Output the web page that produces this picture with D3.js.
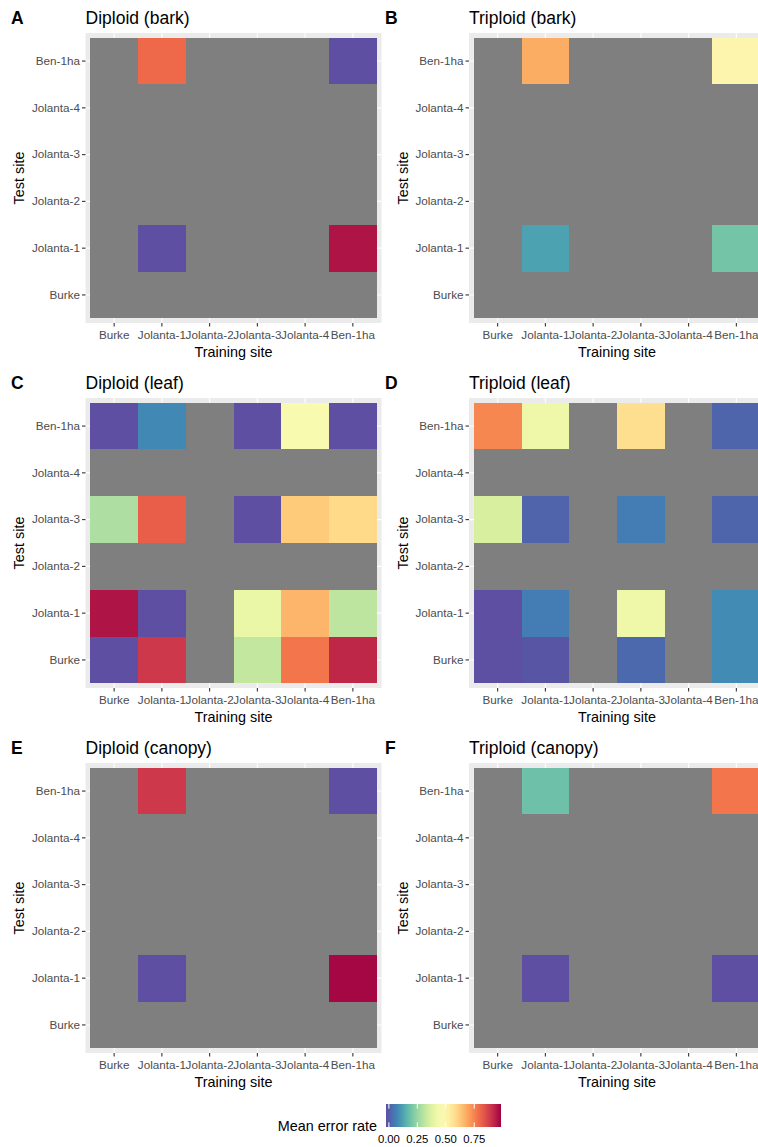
<!DOCTYPE html>
<html>
<head>
<meta charset="utf-8">
<script src="https://cdnjs.cloudflare.com/ajax/libs/d3/7.8.5/d3.min.js"></script>
<style>
  body { margin: 0; background: #fff; }
  text { font-family: "Liberation Sans", Arial, sans-serif; }
</style>
</head>
<body>
<div id="container"></div>
<script>
// sites, in factor order (x: left to right, y: bottom to top)
var sites = ['Burke', 'Jolanta-1', 'Jolanta-2', 'Jolanta-3', 'Jolanta-4', 'Ben-1ha']

// mean error rate, rows = test site, columns = training site (both in `sites` order)
var N = null
var diploidBark = [
  [N, N, N, N, N, N],
  [N, 0.00, N, N, N, 0.93],
  [N, N, N, N, N, N],
  [N, N, N, N, N, N],
  [N, N, N, N, N, N],
  [N, 0.78, N, N, N, 0.00]
]
var triploidBark = [
  [N, N, N, N, N, N],
  [N, 0.14, N, N, N, 0.21],
  [N, N, N, N, N, N],
  [N, N, N, N, N, N],
  [N, N, N, N, N, N],
  [N, 0.67, N, N, N, 0.50]
]
var diploidLeaf = [
  [0.00, 0.87, N, 0.33, 0.76, 0.90],
  [0.93, 0.00, N, 0.41, 0.655, 0.32],
  [N, N, N, N, N, N],
  [0.295, 0.80, N, 0.00, 0.615, 0.583],
  [N, N, N, N, N, N],
  [0.00, 0.095, N, 0.00, 0.455, 0.00]
]
var triploidLeaf = [
  [0.002, 0.01, N, 0.043, N, 0.10],
  [0.00, 0.078, N, 0.425, N, 0.10],
  [N, N, N, N, N, N],
  [0.365, 0.035, N, 0.078, N, 0.037],
  [N, N, N, N, N, N],
  [0.73, 0.425, N, 0.57, N, 0.037]
]
var diploidCanopy = [
  [N, N, N, N, N, N],
  [N, 0.00, N, N, N, 0.95],
  [N, N, N, N, N, N],
  [N, N, N, N, N, N],
  [N, N, N, N, N, N],
  [N, 0.87, N, N, N, 0.00]
]
var triploidCanopy = [
  [N, N, N, N, N, N],
  [N, 0.00, N, N, N, 0.00],
  [N, N, N, N, N, N],
  [N, N, N, N, N, N],
  [N, N, N, N, N, N],
  [N, 0.20, N, N, N, 0.76]
]

var panelTags = ['A', 'B', 'C', 'D', 'E', 'F']
var panelTitles = ['Diploid (bark)', 'Triploid (bark)', 'Diploid (leaf)', 'Triploid (leaf)', 'Diploid (canopy)', 'Triploid (canopy)']
var panelData = [diploidBark, triploidBark, diploidLeaf, triploidLeaf, diploidCanopy, triploidCanopy]

var legendTicks = [0, 0.25, 0.5, 0.75]
var maxRate = 0.96

var WIDTH = 758
var HEIGHT = 1147

var svg = d3.select('div#container').append('svg')
  .attr('width', WIDTH)
  .attr('height', HEIGHT)

var color = d3.scaleSequential(function (t) { return d3.interpolateSpectral(1 - t) })
  .domain([0, maxRate])
var naColor = '#7f7f7f'

var panelW = 296
var panelH = 290
var colLeft = [85.5, 469]
var rowTop = [33, 398, 763]

panelData.forEach(function (grid, p) {
  var left = colLeft[p % 2]
  var top = rowTop[Math.floor(p / 2)]

  var x = d3.scaleBand().domain(sites).range([0, panelW]).paddingOuter(0.1).paddingInner(0)
  var y = d3.scaleBand().domain(sites.slice().reverse()).range([0, panelH]).paddingOuter(0.1).paddingInner(0)

  var g = svg.append('g').attr('transform', 'translate(' + left + ',' + top + ')')

  g.append('rect')
    .attr('width', panelW)
    .attr('height', panelH)
    .attr('fill', '#ebebeb')

  // major grid lines
  g.selectAll('line.gx').data(sites).enter().append('line')
    .attr('x1', function (d) { return x(d) + x.bandwidth() / 2 })
    .attr('x2', function (d) { return x(d) + x.bandwidth() / 2 })
    .attr('y1', 0).attr('y2', panelH)
    .attr('stroke', '#fff').attr('stroke-width', 1.1)
  g.selectAll('line.gy').data(sites).enter().append('line')
    .attr('y1', function (d) { return y(d) + y.bandwidth() / 2 })
    .attr('y2', function (d) { return y(d) + y.bandwidth() / 2 })
    .attr('x1', 0).attr('x2', panelW)
    .attr('stroke', '#fff').attr('stroke-width', 1.1)

  var cells = []
  grid.forEach(function (row, i) {
    row.forEach(function (v, j) {
      cells.push({ test: sites[i], train: sites[j], value: v })
    })
  })

  g.selectAll('rect.tile').data(cells).enter().append('rect')
    .attr('class', 'tile')
    .attr('x', function (d) { return x(d.train) })
    .attr('y', function (d) { return y(d.test) })
    .attr('width', x.bandwidth())
    .attr('height', y.bandwidth())
    .attr('shape-rendering', 'crispEdges')
    .attr('fill', function (d) { return d.value === null ? naColor : color(d.value) })

  var ax = g.append('g').attr('transform', 'translate(0,' + panelH + ')')
    .call(d3.axisBottom(x).tickSize(3.5).tickPadding(4))
  var ay = g.append('g')
    .call(d3.axisLeft(y).tickSize(3.5).tickPadding(2))
  ;[ax, ay].forEach(function (a) {
    a.select('.domain').remove()
    a.selectAll('line').attr('stroke', '#333333').attr('stroke-width', 1.1)
    a.selectAll('text').attr('fill', '#4d4d4d').style('font-size', '11.7px')
      .style('font-family', '"Liberation Sans", Arial, sans-serif')
  })

  g.append('text')
    .attr('x', panelW / 2)
    .attr('y', panelH + 34)
    .attr('text-anchor', 'middle')
    .style('font-size', '14.4px')
    .text('Training site')

  g.append('text')
    .attr('transform', 'translate(' + ((p % 2 ? 407.5 : 24) - left) + ',' + (panelH / 2) + ') rotate(-90)')
    .attr('text-anchor', 'middle')
    .style('font-size', '14.4px')
    .text('Test site')

  g.append('text')
    .attr('x', 0)
    .attr('y', -9)
    .style('font-size', '17.5px')
    .text(panelTitles[p])

  g.append('text')
    .attr('x', (p % 2 ? 385 : 11) - left)
    .attr('y', -9)
    .style('font-size', '17.5px')
    .style('font-weight', 'bold')
    .text(panelTags[p])
})

// colour bar legend
var legX = 386
var legY = 1104
var legW = 115
var legH = 23
var nbin = 20

var grad = svg.append('defs').append('linearGradient')
  .attr('id', 'rateGrad')
  .attr('x1', '0%').attr('x2', '100%')
d3.range(0, 1.0001, 0.05).forEach(function (t) {
  grad.append('stop')
    .attr('offset', (t * 100) + '%')
    .attr('stop-color', color(t * maxRate))
})

svg.append('rect')
  .attr('x', legX).attr('y', legY)
  .attr('width', legW).attr('height', legH)
  .attr('fill', 'url(#rateGrad)')

var legScale = d3.scaleLinear()
  .domain([0, maxRate])
  .range([legX + legW * 0.5 / nbin, legX + legW - legW * 0.5 / nbin])

legendTicks.forEach(function (v) {
  var xx = legScale(v)
  svg.append('line')
    .attr('x1', xx).attr('x2', xx)
    .attr('y1', legY).attr('y2', legY + legH / 5)
    .attr('stroke', '#fff').attr('stroke-width', 1)
  svg.append('line')
    .attr('x1', xx).attr('x2', xx)
    .attr('y1', legY + legH - legH / 5).attr('y2', legY + legH)
    .attr('stroke', '#fff').attr('stroke-width', 1)
  svg.append('text')
    .attr('x', xx)
    .attr('y', 1143)
    .attr('text-anchor', 'middle')
    .attr('fill', '#000')
    .style('font-size', '11.3px')
    .text(d3.format('.2f')(v))
})

svg.append('text')
  .attr('x', 377)
  .attr('y', 1131)
  .attr('text-anchor', 'end')
  .style('font-size', '14.4px')
  .text('Mean error rate')
</script>
</body>
</html>
